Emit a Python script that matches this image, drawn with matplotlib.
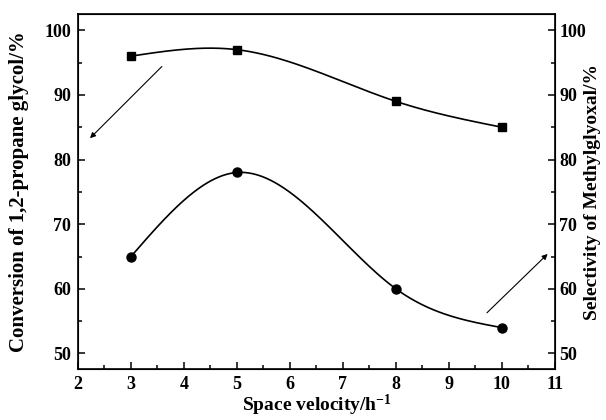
import numpy as np
import matplotlib
matplotlib.use('Agg')
import matplotlib.pyplot as plt
from matplotlib.ticker import MultipleLocator

plt.rcParams['font.family'] = ['Liberation Serif', 'DejaVu Serif']
plt.rcParams['font.weight'] = 'bold'
plt.rcParams['mathtext.fontset'] = 'custom'
plt.rcParams['mathtext.rm'] = 'Liberation Serif:bold'
plt.rcParams['mathtext.default'] = 'rm'

# data
space_velocity = [3, 5, 8, 10]
conversion = [96, 97, 89, 85]
selectivity = [65, 78, 60, 54]


def natural_spline(x, y, n=200):
    # natural cubic spline, only used to draw the smooth connecting line
    x = np.asarray(x, float)
    y = np.asarray(y, float)
    k = len(x)
    h = np.diff(x)
    A = np.zeros((k, k))
    b = np.zeros(k)
    A[0, 0] = A[-1, -1] = 1
    for i in range(1, k - 1):
        A[i, i - 1] = h[i - 1]
        A[i, i] = 2 * (h[i - 1] + h[i])
        A[i, i + 1] = h[i]
        b[i] = 6 * ((y[i + 1] - y[i]) / h[i] - (y[i] - y[i - 1]) / h[i - 1])
    M = np.linalg.solve(A, b)
    xs = np.linspace(x[0], x[-1], n)
    idx = np.clip(np.searchsorted(x, xs) - 1, 0, k - 2)
    x0, x1 = x[idx], x[idx + 1]
    hh = x1 - x0
    ys = (M[idx] * (x1 - xs) ** 3 / (6 * hh) + M[idx + 1] * (xs - x0) ** 3 / (6 * hh)
          + (y[idx] / hh - M[idx] * hh / 6) * (x1 - xs)
          + (y[idx + 1] / hh - M[idx + 1] * hh / 6) * (xs - x0))
    return xs, ys


fig = plt.figure(figsize=(6.06, 4.2), dpi=100)
ax = fig.add_axes([0.1287, 0.1214, 0.787, 0.845])

xs, ys = natural_spline(space_velocity, conversion)
ax.plot(xs, ys, color='black', lw=1.2)
ax.plot(space_velocity, conversion, 's', color='black', ms=5.8)

xs, ys = natural_spline(space_velocity, selectivity)
ax.plot(xs, ys, color='black', lw=1.2)
ax.plot(space_velocity, selectivity, 'o', color='black', ms=6.5)

# arrows pointing to the axes
ax.annotate('', xy=(2.19, 83.0), xytext=(3.62, 94.7),
            arrowprops=dict(arrowstyle='-|>', color='black', lw=0.8, mutation_scale=8))
ax.annotate('', xy=(10.9, 65.7), xytext=(9.68, 56.0),
            arrowprops=dict(arrowstyle='-|>', color='black', lw=0.8, mutation_scale=8))

ax.set_xlim(2, 11)
ax.set_ylim(47.6, 102.5)
ax.xaxis.set_major_locator(MultipleLocator(1))
ax.xaxis.set_minor_locator(MultipleLocator(0.5))
ax.yaxis.set_major_locator(MultipleLocator(10))
ax.yaxis.set_minor_locator(MultipleLocator(5))
ax.tick_params(which='both', direction='in', top=False, right=False, labelsize=13, width=1.1)
ax.tick_params(which='major', length=5, pad=5)
ax.tick_params(which='minor', length=3)
for s in ax.spines.values():
    s.set_linewidth(1.2)

ax.set_xlabel('Space velocity/h$^{-1}$', fontsize=14, fontweight='bold', labelpad=0)
ax.set_ylabel('Conversion of 1,2-propane glycol/%', fontsize=15, fontweight='bold')
ax.yaxis.set_label_coords(-0.103, 0.5)

ax2 = ax.twinx()
ax2.set_ylim(ax.get_ylim())
ax2.yaxis.set_major_locator(MultipleLocator(10))
ax2.yaxis.set_minor_locator(MultipleLocator(5))
ax2.tick_params(which='both', direction='in', labelsize=13, width=1.1)
ax2.tick_params(which='major', length=5, pad=3)
ax2.tick_params(which='minor', length=3)
ax2.set_ylabel('Selectivity of Methylglyoxal/%', fontsize=14, fontweight='bold', rotation=90)
ax2.yaxis.set_label_coords(1.06, 0.5)

fig.savefig('out.png', dpi=100)
